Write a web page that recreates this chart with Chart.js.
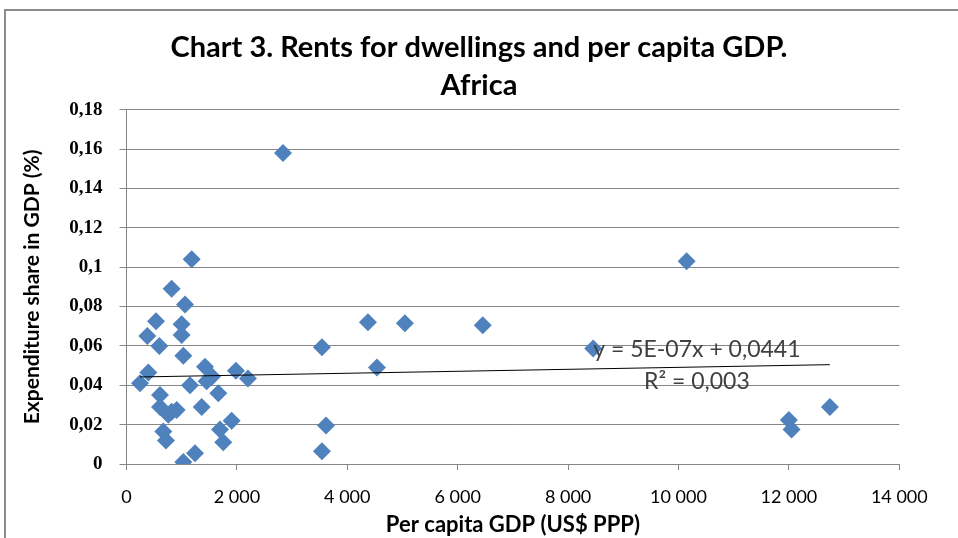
<!DOCTYPE html>
<html>
<head>
<meta charset="utf-8">
<script src="https://cdn.jsdelivr.net/npm/chart.js@4"></script>
<style>
  html, body { margin: 0; padding: 0; background: #fff; }
  #wrap { position: relative; width: 958px; height: 538px; }
</style>
</head>
<body>
<div id="wrap"><canvas id="rentChart" width="958" height="538"></canvas></div>
<script>
// per capita GDP (US$ PPP) and rent share
const gdp = [1181, 818, 1060, 534, 999, 377, 999, 595, 1029, 1422,
  395, 1983, 245, 1150, 1452, 1550, 2200, 1663, 607, 607,
  909, 757, 818, 1362, 1905, 1694, 667, 715, 1753, 1241,
  1029, 2835, 4374, 5043, 6454, 3541, 4537, 3614, 3541, 8455,
  10147, 12742, 11999, 12048];
const share = [0.104, 0.089, 0.081, 0.0725, 0.071, 0.065, 0.0655, 0.060, 0.055, 0.0494,
  0.0465, 0.0474, 0.041, 0.040, 0.042, 0.0445, 0.0435, 0.036, 0.035, 0.029,
  0.0275, 0.025, 0.0265, 0.029, 0.022, 0.0175, 0.0165, 0.012, 0.011, 0.0055,
  0.001, 0.158, 0.072, 0.0715, 0.0705, 0.0593, 0.049, 0.0195, 0.0065, 0.0587,
  0.103, 0.029, 0.0223, 0.0175];

// linear trend as printed on the chart
const trendSlope = 5e-7;
const trendIntercept = 0.0441;
const trendLabel = ["y = 5E-07x + 0,0441", "R\u00B2 = 0,003"];

const titleLines = ["Chart 3. Rents for dwellings and per capita GDP.", "Africa"];

const points = gdp.map((g, i) => ({ x: g, y: share[i] }));
const xMin = Math.min(...gdp), xMax = Math.max(...gdp);
const trendPoints = [xMin, xMax].map(x => ({ x: x, y: trendSlope * x + trendIntercept }));

const frame = {
  id: "frame",
  beforeDraw(chart) {
    const c = chart.ctx;
    c.save();
    c.fillStyle = "#fff";
    c.fillRect(0, 0, chart.width, chart.height);
    c.strokeStyle = "#8c8c8c";
    c.lineWidth = 2;
    c.beginPath();
    c.moveTo(5, chart.height + 2);
    c.lineTo(5, 10);
    c.lineTo(chart.width + 2, 10);
    c.stroke();
    c.restore();
  }
};

const trendText = {
  id: "trendText",
  afterDatasetsDraw(chart) {
    const c = chart.ctx;
    const x = chart.scales.x.getPixelForValue(10333);
    c.save();
    c.font = "23px Lato";
    c.fillStyle = "#404040";
    c.textAlign = "center";
    c.textBaseline = "middle";
    c.fillText(trendLabel[0], x, chart.scales.y.getPixelForValue(0.0583));
    c.fillText(trendLabel[1], x, chart.scales.y.getPixelForValue(0.0421));
    c.restore();
  }
};

new Chart(document.getElementById("rentChart"), {
  type: "scatter",
  data: {
    datasets: [{
      label: "Rents",
      data: points,
      pointStyle: "rectRot",
      pointRadius: 9,
      pointHoverRadius: 9,
      backgroundColor: "#4f81bd",
      borderColor: "#4f81bd",
      borderWidth: 0,
      order: 2
    }, {
      type: "line",
      label: "Trend",
      data: trendPoints,
      borderColor: "#000",
      borderWidth: 1,
      pointRadius: 0,
      fill: false,
      order: 1
    }]
  },
  options: {
    responsive: false,
    animation: false,
    layout: { padding: 0 },
    plugins: {
      legend: { display: false },
      tooltip: { enabled: false },
      title: {
        display: true,
        text: titleLines,
        color: "#000",
        font: { family: "Lato", size: 29, weight: "bold", lineHeight: 1.28 },
        padding: { top: 29.5, bottom: 6 }
      }
    },
    scales: {
      x: {
        type: "linear",
        min: 0,
        max: 14000,
        afterFit(scale) { scale.height = 74; },
        border: { color: "#868686" },
        grid: { drawOnChartArea: false, drawTicks: true, tickLength: 6, color: "#868686" },
        ticks: {
          stepSize: 2000,
          color: "#000",
          font: { family: "Lato", size: 18 },
          padding: 16,
          callback: v => String(v).replace(/\B(?=(\d{3})+(?!\d))/g, " ")
        },
        title: {
          display: true,
          text: "Per capita GDP (US$ PPP)",
          color: "#000",
          font: { family: "Lato", size: 22, weight: "bold" },
          padding: { top: 0, bottom: 0 }
        }
      },
      y: {
        min: 0,
        max: 0.18,
        afterFit(scale) { scale.width = 126.5; },
        border: { color: "#868686" },
        grid: { color: "#868686", tickLength: 7 },
        ticks: {
          stepSize: 0.02,
          color: "#000",
          font: { family: "Liberation Serif", size: 19, weight: "bold" },
          padding: 17,
          callback: v => String(Number(v.toFixed(2))).replace(".", ",")
        },
        title: {
          display: true,
          text: "Expenditure share in GDP (%)",
          color: "#000",
          font: { family: "Lato", size: 21, weight: "bold" },
          padding: { top: 20, bottom: 0 }
        }
      },
      // empty right-hand axis, only keeps the plot's right margin
      yRight: {
        position: "right",
        afterFit(scale) { scale.width = 58.7; },
        grid: { display: false },
        border: { display: false },
        ticks: { display: false }
      }
    }
  },
  plugins: [frame, trendText]
});
</script>
</body>
</html>
